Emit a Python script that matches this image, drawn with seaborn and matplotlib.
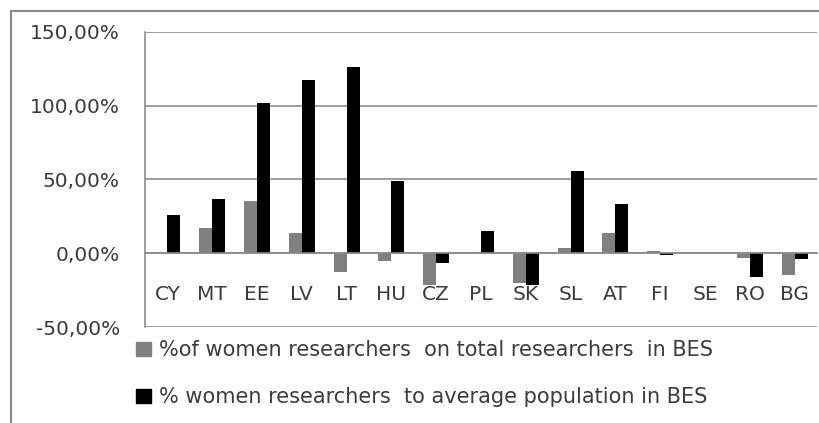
import matplotlib
matplotlib.use("Agg")
import matplotlib.pyplot as plt
from matplotlib.lines import Line2D
from matplotlib.ticker import FuncFormatter, FixedLocator
import seaborn as sns
import pandas as pd
import numpy as np

countries = ["CY", "MT", "EE", "LV", "LT", "HU", "CZ", "PL", "SK", "SL",
             "AT", "FI", "SE", "RO", "BG"]
share_women = [0.0, 17.4, 35.5, 13.6, -12.7, -5.4, -21.7, 1.0, -19.9, 3.6,
               13.4, 1.8, 0.0, -3.2, -14.5]
women_vs_population = [25.8, 37.1, 101.8, 117.4, 126.4, 49.0, -6.8, 14.9,
                       -21.7, 56.0, 33.5, -1.4, 0.0, -16.0, -4.0]
series_names = ["%of women researchers  on total researchers  in BES",
                "% women researchers  to average population in BES"]
y_ticks = [-50, 0, 50, 100, 150]

df = pd.DataFrame({
    "country": countries * 2,
    "value": share_women + women_vs_population,
    "series": [series_names[0]] * len(countries) + [series_names[1]] * len(countries),
})

sns.set_style("white")
plt.rcParams["font.family"] = ["DejaVu Sans"]
text_color = "#3c3c3c"
grid_color = "#8c8c8c"
fs = 14.5

fig = plt.figure(figsize=(8.2, 4.23), dpi=100)
ax = fig.add_axes([145 / 820, 1 - 327 / 423, (817 - 145) / 820, (327 - 32) / 423])

sns.barplot(data=df, x="country", y="value", hue="series", order=countries,
            hue_order=series_names, palette=["#808080", "#000000"],
            saturation=1, width=0.58, dodge=True, linewidth=0, ax=ax,
            legend=False)

ax.set_xlim(-0.5, len(countries) - 0.5)
ax.set_ylim(-50, 150)
ax.set_xlabel("")
ax.set_ylabel("")

# horizontal gridlines
ax.yaxis.set_major_locator(FixedLocator(y_ticks))
ax.yaxis.set_major_formatter(FuncFormatter(lambda v, p: f"{v:.2f}".replace(".", ",") + "%"))
ax.grid(axis="y", color=grid_color, linewidth=1.2)
ax.set_axisbelow(True)
ax.tick_params(axis="y", which="major", length=8, width=1.2, color=grid_color,
               direction="out", pad=10, labelsize=fs, labelcolor=text_color)

# category axis sits on the zero line
for side in ["top", "right"]:
    ax.spines[side].set_visible(False)
ax.spines["bottom"].set_position(("data", 0))
ax.spines["bottom"].set_color(grid_color)
ax.spines["bottom"].set_linewidth(1.2)
ax.spines["left"].set_color(grid_color)
ax.spines["left"].set_linewidth(1.2)
ax.set_xticks(range(len(countries)))
ax.set_xticklabels(countries)
ax.set_xticks(np.arange(-0.5, len(countries), 1.0), minor=True)
ax.tick_params(axis="x", which="major", length=0, pad=22.5, labelsize=fs,
               labelcolor=text_color)
ax.tick_params(axis="x", which="minor", length=7, width=1.2, color=grid_color,
               direction="out")

# legend below the plot
handles = [plt.Rectangle((0, 0), 1, 1, color="#808080"),
           plt.Rectangle((0, 0), 1, 1, color="#000000")]
leg = fig.legend(handles, series_names, loc="upper left",
                 bbox_to_anchor=(136 / 820, 1 - 340 / 423), frameon=False,
                 fontsize=15, handlelength=0.72, handleheight=0.68,
                 handletextpad=0.4, labelspacing=1.3, borderpad=0,
                 borderaxespad=0)
for t in leg.get_texts():
    t.set_color(text_color)

# outer chart frame
fig.add_artist(Line2D([11 / 820, 1.0], [1 - 11 / 423] * 2, color="#8a8a8a",
                      linewidth=1.5, transform=fig.transFigure))
fig.add_artist(Line2D([11 / 820] * 2, [0.0, 1 - 11 / 423], color="#8a8a8a",
                      linewidth=1.5, transform=fig.transFigure))

fig.savefig("out.png", dpi=100, facecolor="white")
